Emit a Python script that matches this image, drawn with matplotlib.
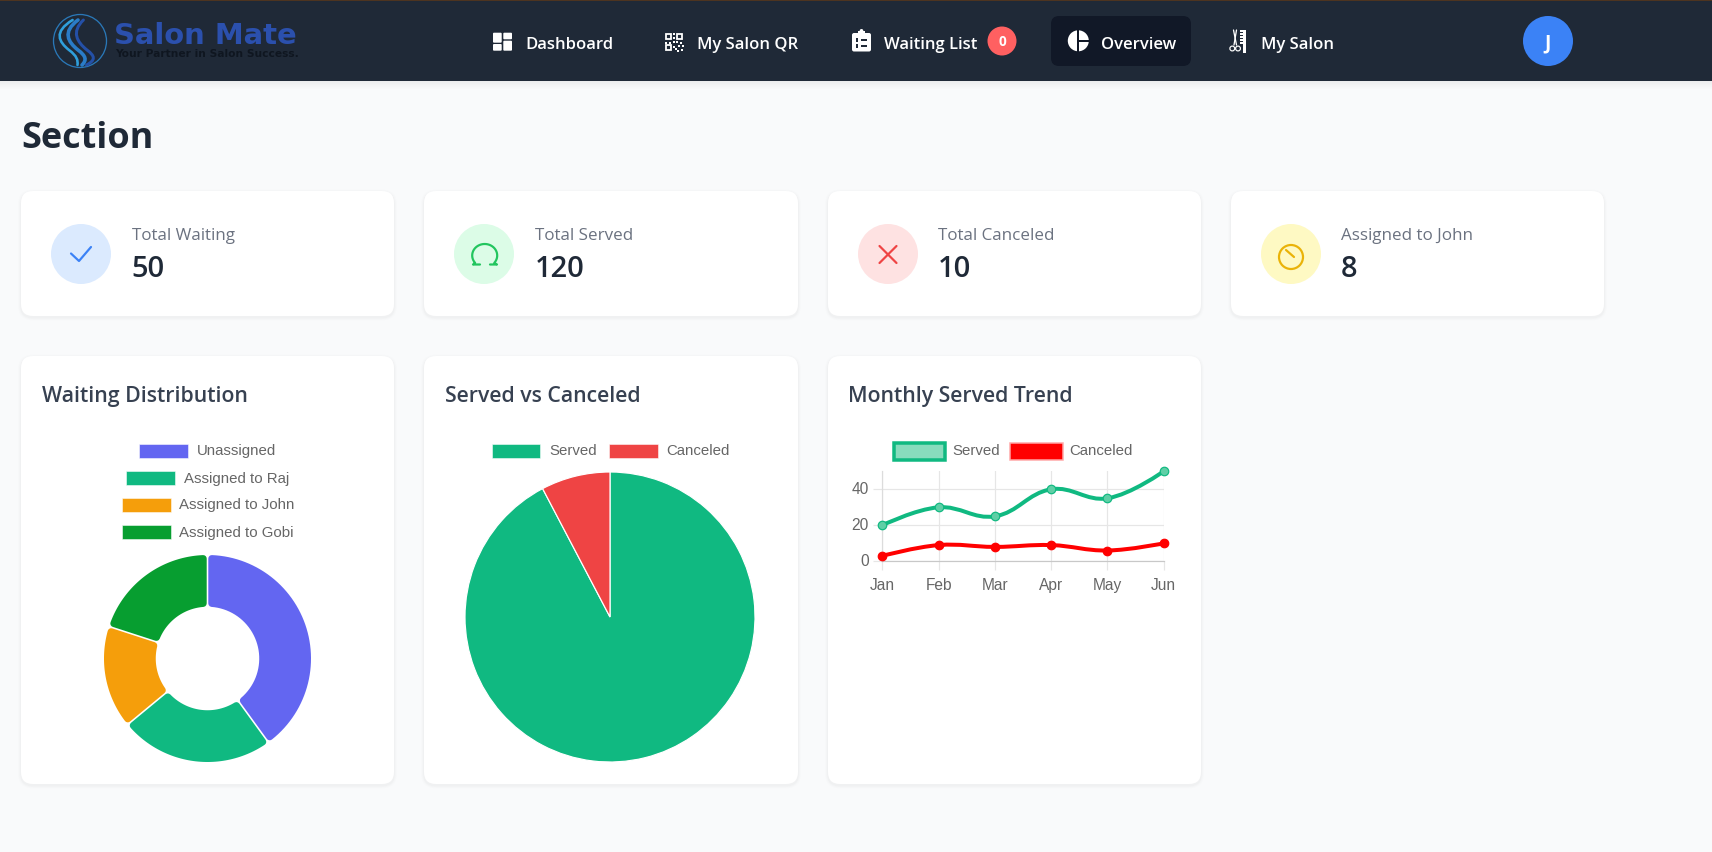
import numpy as np
import matplotlib
matplotlib.use('Agg')
import matplotlib.pyplot as plt
from matplotlib.patches import FancyBboxPatch, Circle, Rectangle, PathPatch
from matplotlib.path import Path
from matplotlib.transforms import ScaledTranslation

W, H = 1712, 852

# data
stat_labels = ['Total Waiting', 'Total Served', 'Total Canceled', 'Assigned to John']
stat_values = ['50', '120', '10', '8']
nav_labels = ['Dashboard', 'My Salon QR', 'Waiting List', 'Overview', 'My Salon']

wait_labels = ['Unassigned', 'Assigned to Raj', 'Assigned to John', 'Assigned to Gobi']
wait_values = [20, 12, 8, 10]
wait_colors = ['#6366f1', '#10b981', '#f59e0b', '#079e30']

pie_labels = ['Served', 'Canceled']
pie_values = [120, 10]
pie_colors = ['#10b981', '#ef4444']

months = ['Jan', 'Feb', 'Mar', 'Apr', 'May', 'Jun']
served = [20, 30, 25, 40, 35, 50]
canceled = [3, 9, 8, 9, 6, 10]

plt.rcParams['font.family'] = ['Open Sans', 'DejaVu Sans']

def px(v):
    # css pixels to points at dpi 100
    return v * 0.72

fig = plt.figure(figsize=(W / 100, H / 100), dpi=100, facecolor='#f9fafb')
bg = fig.add_axes([0, 0, 1, 1], zorder=0)
bg.set_xlim(0, W)
bg.set_ylim(H, 0)
bg.axis('off')

def card(x0, y0, x1, y1):
    for grow, a in [(3, 0.008), (2, 0.012), (1, 0.016)]:
        bg.add_patch(FancyBboxPatch((x0 - grow, y0 - grow + 1.5), x1 - x0 + 2 * grow, y1 - y0 + 2 * grow,
                                    boxstyle='round,pad=0,rounding_size=%d' % (12 + grow),
                                    fc='black', ec='none', alpha=a))
    bg.add_patch(FancyBboxPatch((x0, y0), x1 - x0, y1 - y0, boxstyle='round,pad=0,rounding_size=12',
                                fc='white', ec='none'))

def line(pts, color, lw, cap='round', z=2):
    xs, ys = zip(*pts)
    bg.plot(xs, ys, color=color, lw=px(lw), solid_capstyle=cap, solid_joinstyle='round', zorder=z)

def rect(x, y, w, h, color='white', z=2):
    bg.add_patch(Rectangle((x, y), w, h, fc=color, ec='none', zorder=z))

# header
for i in range(8):
    bg.add_patch(Rectangle((0, 81 + i), W, 1, fc='black', ec='none', alpha=0.05 * (1 - i / 8)))
rect(0, 0, W, 81, '#1f2937', 1)
rect(0, 0, W, 1, '#4d3420', 1)

# logo
bg.add_patch(Circle((80, 41), 26.5, fc='none', ec='#2a78b8', lw=px(1.3), zorder=2))
swirls = [(-9, '#2f9fdc', 2.6), (0, '#2a7cc8', 3.6), (9, '#2450a8', 3.0)]
for dx, col, lw in swirls:
    s = Path([(78 + dx * 0.6, 20), (62 + dx, 32), (68 + dx, 42), (78 + dx, 50), (86 + dx, 56), (87 + dx, 60), (82 + dx * 0.5, 65)],
             [Path.MOVETO] + [Path.CURVE4] * 6)
    bg.add_patch(PathPatch(s, fc='none', ec=col, lw=px(lw), capstyle='round', zorder=2))
bg.text(114, 44.5, 'Salon Mate', family='DejaVu Sans', weight='bold', fontsize=px(29), color='#2b50ad')
bg.text(115, 57, 'Your Partner in Salon Success.', family='DejaVu Sans', weight='bold', fontsize=px(10.6), color='#0f1620')

# nav
bg.add_patch(FancyBboxPatch((1051, 16), 140, 50, boxstyle='round,pad=0,rounding_size=8', fc='#111827', ec='none', zorder=2))
nav_x = [525, 697, 884, 1101.5, 1261]
for x, lab in zip(nav_x, nav_labels):
    bg.text(x, 49, lab, color='white', fontsize=px(16.6), weight=600, zorder=5)

# dashboard icon
for x, y, w, h in [(493, 32.7, 8.7, 10), (503.3, 32.7, 8.7, 6.6), (493, 44, 8.7, 6.7), (503.3, 40.7, 8.7, 10)]:
    bg.add_patch(FancyBboxPatch((x, y), w, h, boxstyle='round,pad=0,rounding_size=1', fc='white', ec='none', zorder=3))
# qr icon
for x, y in [(665.8, 33.5), (677.3, 33.5), (665.8, 45)]:
    bg.add_patch(Rectangle((x, y), 5, 5, fc='none', ec='white', lw=px(1.8), zorder=3))
for x, y in [(673, 33), (673, 37), (673, 41), (665, 41.5), (669, 41.5), (676, 41), (680, 42), (682, 45), (678, 45),
             (675, 48), (681, 49), (677, 50), (673, 46)]:
    rect(x, y, 2, 2, 'white', 3)
# clipboard icon
bg.add_patch(FancyBboxPatch((852, 33), 19, 18.5, boxstyle='round,pad=0,rounding_size=2', fc='white', ec='none', zorder=3))
rect(858, 31, 7, 3, 'white', 3)
bg.add_patch(Circle((861.5, 30.8), 1.8, fc='white', ec='none', zorder=3))
for y in [38, 44]:
    rect(856.5, y, 2, 4, '#1f2937', 4)
    rect(861, y + 0.7, 6.5, 2, '#1f2937', 4)
# badge
bg.add_patch(Circle((1002, 41), 14.5, fc='#ff6061', ec='none', zorder=3))
bg.text(1002, 46, '0', color='white', fontsize=px(13.5), weight='bold', ha='center', zorder=4)
# overview icon
bg.add_patch(Circle((1078.3, 40.8), 10.5, fc='white', ec='none', zorder=3))
line([(1077.7, 29), (1077.7, 53)], '#111827', 2, cap='butt', z=4)
line([(1077.7, 41), (1090, 41)], '#111827', 2, cap='butt', z=4)
# salon icon, comb and scissors
rect(1243.5, 29.5, 2.6, 23.5, 'white', 3)
for y in range(30, 44, 3):
    rect(1240, y, 4, 2, 'white', 3)
line([(1233.5, 30), (1236.5, 45)], 'white', 1.3, z=3)
line([(1236.5, 30), (1234, 45)], 'white', 1.3, z=3)
bg.add_patch(Circle((1232.3, 48.5), 2.4, fc='none', ec='white', lw=px(1.2), zorder=3))
bg.add_patch(Circle((1238, 48.5), 2.4, fc='none', ec='white', lw=px(1.2), zorder=3))
# avatar
bg.add_patch(Circle((1548, 41), 25, fc='#3b82f6', ec='none', zorder=3))
bg.text(1548, 48, 'J', color='white', fontsize=px(19), weight='bold', ha='center', zorder=4)

bg.text(21, 148, 'Section', color='#1f2937', fontsize=px(36), weight='bold')

# stat cards
card_x = [(21, 394), (424, 798), (828, 1201), (1231, 1604)]
circle_x = [81, 484, 888, 1291]
text_x = [132, 535, 938, 1341]
circle_c = ['#dbeafe', '#dcfce7', '#fee2e2', '#fef9c3']
for i in range(4):
    card(card_x[i][0], 191, card_x[i][1], 316)
    bg.add_patch(Circle((circle_x[i], 254), 30, fc=circle_c[i], ec='none'))
    bg.text(text_x[i], 240.5, stat_labels[i], color='#6b7280', fontsize=px(17))
    bg.text(text_x[i] - 0.5, 277, stat_values[i], color='#1f2937', fontsize=px(29), weight=600)

line([(71, 253.5), (79, 261), (91, 247)], '#3b82f6', 2.2)
t = np.radians(np.linspace(-40, 220, 60))
arc = list(zip(484.7 + 12.5 * np.cos(t), 255.5 - 11.5 * np.sin(t)))
line([(480, 264.5), (473, 264.5)] + arc[::-1] + [(497, 264.5), (490, 264.5)], '#22c55e', 2.2)
line([(879.5, 246), (896.5, 263)], '#ef4444', 2.2)
line([(896.5, 246), (879.5, 263)], '#ef4444', 2.2)
bg.add_patch(Circle((1291, 257), 12, fc='none', ec='#eab308', lw=px(2.2), zorder=3))
line([(1286, 250), (1294, 257)], '#eab308', 2.2, z=3)

# chart cards
card(21, 356, 394, 784)
card(424, 356, 798, 784)
card(828, 356, 1201, 784)
title_color = '#374151'
bg.text(42, 402, 'Waiting Distribution', color=title_color, fontsize=px(21.3), weight=600)
bg.text(445, 402, 'Served vs Canceled', color=title_color, fontsize=px(21.3), weight=600)
bg.text(848.5, 402, 'Monthly Served Trend', color=title_color, fontsize=px(21.3), weight=600)

def legend_item(x, y, w, h, label, fc, ec, lw, tx, base):
    bg.add_patch(Rectangle((x, y), w, h, fc=fc, ec=ec, lw=px(lw)))
    bg.text(tx, base, label, family='Liberation Sans', color='#666666', fontsize=px(15))

# legends
wait_swatch_x = [139, 126, 122, 122]
wait_swatch_y = [444, 471, 498, 525]
wait_text_x = [197, 184, 179, 179]
wait_base = [455, 483, 509.5, 537.5]
for i in range(4):
    legend_item(wait_swatch_x[i], wait_swatch_y[i], 49, 14, wait_labels[i], wait_colors[i], '#ffffff80', 1,
                wait_text_x[i], wait_base[i])
legend_item(492, 444, 48, 14, pie_labels[0], pie_colors[0], '#ffffff80', 1, 549, 455)
legend_item(609, 444, 49, 14, pie_labels[1], pie_colors[1], '#ffffff80', 1, 666, 455)
legend_item(894.5, 443, 51, 17, 'Served', '#88dcbd', '#10b981', 3.5, 952, 455)
legend_item(1010.5, 442.5, 53, 17.5, 'Canceled', '#ff0000', '#ffa8a8', 1.5, 1069, 455)

def chart_axes(x0, y0, x1, y1):
    return fig.add_axes([x0 / W, 1 - y1 / H, (x1 - x0) / W, (y1 - y0) / H], zorder=2)

def rounded_sector(theta1, theta2, r_out, r_in, d, gap):
    # annular sector pulled in by d, stroked later with width 2d so the corners come out round
    ro = r_out - d
    ri = r_in + d
    ao = np.degrees(np.arcsin((d + gap) / ro))
    ai = np.degrees(np.arcsin((d + gap) / ri))
    outer = np.radians(np.linspace(theta1 + ao, theta2 - ao, 60))
    inner = np.radians(np.linspace(theta2 - ai, theta1 + ai, 40))
    xs = np.r_[ro * np.cos(outer), ri * np.cos(inner)]
    ys = np.r_[ro * np.sin(outer), ri * np.sin(inner)]
    verts = np.column_stack([np.r_[xs, xs[0]], np.r_[ys, ys[0]]])
    return Path(verts, closed=True)

# donut
donut_r = 103.5
ax1 = chart_axes(207.5 - donut_r, 658.5 - donut_r, 207.5 + donut_r, 658.5 + donut_r)
wedges, _ = ax1.pie(wait_values, colors=wait_colors, startangle=90, counterclock=False, radius=1,
                    wedgeprops=dict(width=0.5))
ax1.set_xlim(-1, 1)
ax1.set_ylim(-1, 1)
ax1.axis('off')
for w, c in zip(wedges, wait_colors):
    w._path = rounded_sector(w.theta1, w.theta2, 1, 0.5, 3.5 / donut_r, 0.8 / donut_r)
    w.set(facecolor=c, edgecolor=c, linewidth=px(7), joinstyle='round', clip_on=False)

# pie
pie_r = 145
ax2 = chart_axes(610 - pie_r, 617 - pie_r, 610 + pie_r, 617 + pie_r)
ax2.pie(pie_values, colors=pie_colors, startangle=90, counterclock=False, radius=1,
        wedgeprops=dict(edgecolor='white', linewidth=px(1.2)))
ax2.set_xlim(-1, 1)
ax2.set_ylim(-1, 1)
ax2.axis('off')

# line chart
x_left, x_right = 882.3, 1163.7
y_top, y_zero = 471.3, 561.3
ax3 = chart_axes(x_left, y_top, x_right, y_zero)
ax3.patch.set_alpha(0)
ax3.set_xlim(0, len(months) - 1)
ax3.set_ylim(0, 50)
for s in ['top', 'right']:
    ax3.spines[s].set_visible(False)
ax3.spines['left'].set_color('#dcdcdc')
ax3.spines['bottom'].set_color('#c8c8c8')
for s in ['left', 'bottom']:
    ax3.spines[s].set_linewidth(px(1.2))
ax3.set_xticks(range(len(months)))
ax3.set_xticklabels(months)
ax3.set_yticks([0, 20, 40])
ax3.grid(True, color='#e6e6e6', lw=px(1.2))
ax3.set_axisbelow(True)
ax3.tick_params(axis='both', length=px(9), width=px(1.2), color='#e6e6e6', labelcolor='#666666',
                labelsize=px(15.5), pad=px(4.5))
ax3.tick_params(axis='x', pad=px(8))
for lab in ax3.get_xticklabels() + ax3.get_yticklabels():
    lab.set_family('Liberation Sans')
shift_up = ScaledTranslation(0, 1.5 / 100, fig.dpi_scale_trans)
for lab in ax3.get_yticklabels():
    lab.set_transform(lab.get_transform() + shift_up)

def smooth_path(ys, tension=0.4):
    # chart.js style bezier through the points
    sx = (x_right - x_left) / (len(ys) - 1)
    sy = (y_zero - y_top) / 50.0
    n = len(ys)
    verts = [(0, ys[0])]
    codes = [Path.MOVETO]
    cp_next = (0, ys[0])
    for i in range(1, n):
        if i < n - 1:
            d01 = np.hypot(sx, (ys[i] - ys[i - 1]) * sy)
            d12 = np.hypot(sx, (ys[i + 1] - ys[i]) * sy)
            fa = tension * d01 / (d01 + d12)
            fb = tension * d12 / (d01 + d12)
            cp_prev = (i - fa * 2, ys[i] - fa * (ys[i + 1] - ys[i - 1]))
            cp_after = (i + fb * 2, ys[i] + fb * (ys[i + 1] - ys[i - 1]))
        else:
            cp_prev = (i, ys[i])
            cp_after = (i, ys[i])
        verts += [cp_next, cp_prev, (i, ys[i])]
        codes += [Path.CURVE4] * 3
        cp_next = cp_after
    return Path(verts, codes)

ax3.add_patch(PathPatch(smooth_path(served), fc='none', ec='#10b981', lw=px(4), clip_on=False, zorder=3))
ax3.add_patch(PathPatch(smooth_path(canceled), fc='none', ec='#ff0000', lw=px(4), clip_on=False, zorder=3))
ax3.plot(range(len(months)), served, ls='none', marker='o', ms=px(8.5), mfc='#5fcfa6', mec='#10b981', mew=px(1.2),
         clip_on=False, zorder=4)
ax3.plot(range(len(months)), canceled, ls='none', marker='o', ms=px(8.5), mfc='#ff0000', mec='#ff0000', mew=px(1.2),
         clip_on=False, zorder=4)

fig.savefig('out.png', dpi=100, facecolor=fig.get_facecolor())
